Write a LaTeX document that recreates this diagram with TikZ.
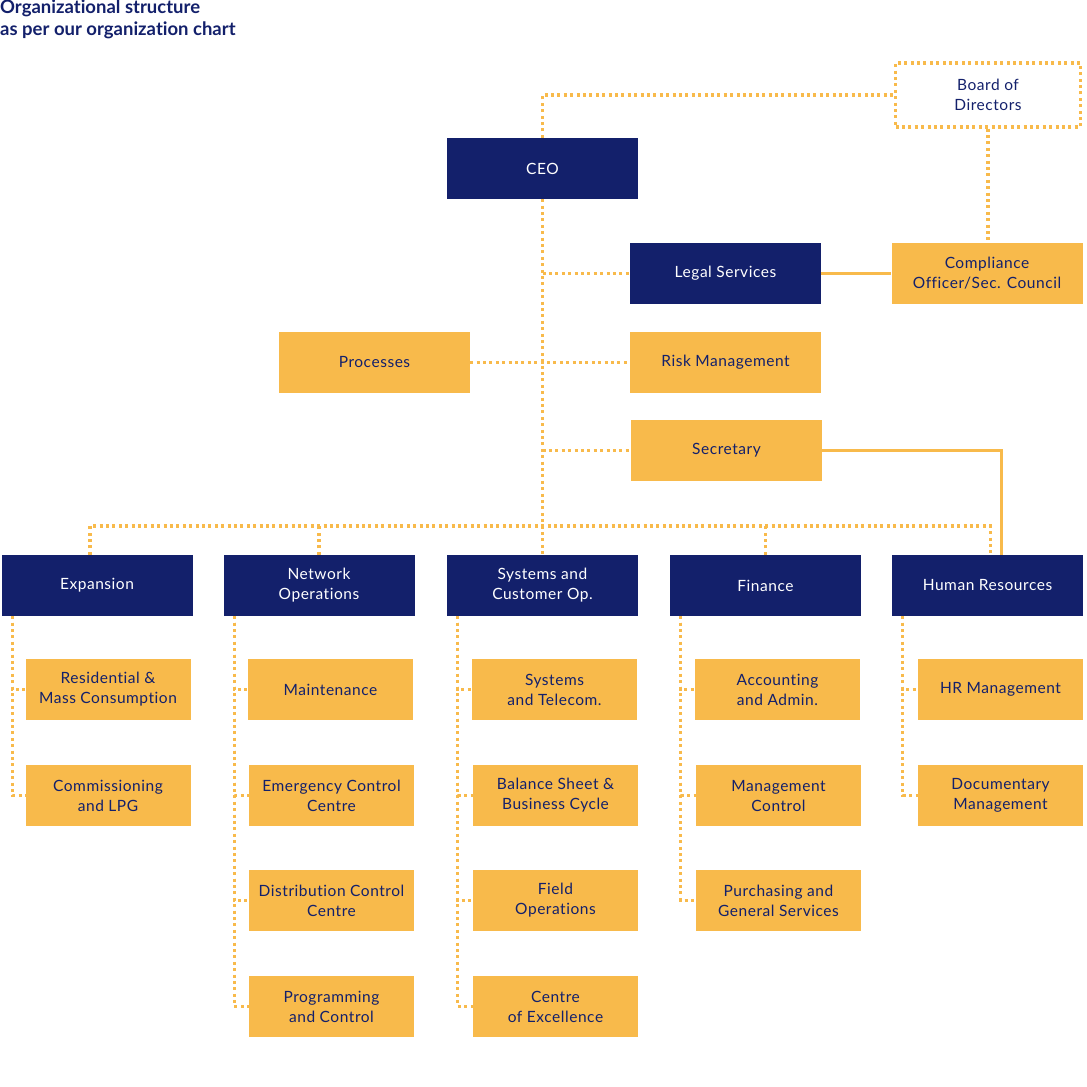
\documentclass[tikz,border=0pt]{standalone}
\usepackage{fontspec}
\setmainfont{Lato}[Ligatures=NoCommon]
\definecolor{navy}{HTML}{13206B}
\definecolor{gold}{HTML}{F8BA4B}
\tikzset{
  box/.style={minimum width=191pt, minimum height=61pt, inner sep=0pt, align=center, font=\fontsize{15.5}{20}\selectfont\addfontfeature{LetterSpace=3.5}},
  navybox/.style={box, fill=navy, text=white},
  goldbox/.style={box, fill=gold, text=navy},
  kidbox/.style={goldbox, minimum width=165pt},
  boardbox/.style={box, minimum width=185pt, minimum height=64pt, text=navy, draw=gold, line width=3.2pt, dash pattern=on 3pt off 3.4pt},
  dotline/.style={draw=gold, line width=3.2pt, dash pattern=on 3pt off 3.4pt},
  solidline/.style={draw=gold, line width=2.2pt}
}
\begin{document}
\begin{tikzpicture}[x=1pt,y=-1pt]
\useasboundingbox (0,0) rectangle (1087,1087);
\node[anchor=north west, inner sep=0pt, align=left, text=navy, font=\fontsize{18.5}{22}\selectfont\bfseries] (title) at (0,0) {Organizational structure\\as per our organization chart};

\node[boardbox] (board) at (988,95) {Board of\\Directors};
\node[navybox] (ceo) at (542.5,168.5) {CEO};
\node[navybox] (legal) at (725.5,273.5) {Legal Services};
\node[goldbox] (comp) at (987,273.5) {Compliance\\Officer/Sec. Council};
\node[goldbox] (risk) at (725.5,362.5) {Risk Management};
\node[goldbox] (proc) at (374.5,362.5) {Processes};
\node[goldbox] (sec) at (726.5,450.5) {Secretary};

\node[navybox] (exp) at (97,585.5) {Expansion};
\node[navybox] (net) at (319,585.5) {Network\\Operations};
\node[navybox] (sys) at (542.5,585.5) {Systems and\\Customer Op.};
\node[navybox] (fin) at (765.5,585.5) {Finance};
\node[navybox] (hr) at (987.5,585.5) {Human Resources};

\node[kidbox] (res) at (108,689.5) {Residential \&\\Mass Consumption};
\node[kidbox] (com) at (108,795.5) {Commissioning\\and LPG};

\node[kidbox] (mai) at (330.5,689.5) {Maintenance};
\node[kidbox] (emc) at (331.5,795.5) {Emergency Control\\Centre};
\node[kidbox] (dcc) at (331.5,900.5) {Distribution Control\\Centre};
\node[kidbox] (pac) at (331.5,1006.5) {Programming\\and Control};

\node[kidbox] (stl) at (554.5,689.5) {Systems\\and Telecom.};
\node[kidbox] (bsb) at (555.5,795.5) {Balance Sheet \&\\Business Cycle};
\node[kidbox] (fop) at (555.5,900.5) {Field\\Operations};
\node[kidbox] (coe) at (555.5,1006.5) {Centre\\of Excellence};

\node[kidbox] (aca) at (777.5,689.5) {Accounting\\and Admin.};
\node[kidbox] (mco) at (778.5,795.5) {Management\\Control};
\node[kidbox] (pgs) at (778.5,900.5) {Purchasing and\\General Services};

\node[kidbox] (hrm) at (1000.5,689.5) {HR Management};
\node[kidbox] (doc) at (1000.5,795.5) {Documentary\\Management};

\coordinate (bus) at (542.5,526);

% top connectors
\draw[dotline] (ceo.north) |- (board.west);
\draw[dotline] (board.south) -- (board.south |- comp.north);
\draw[solidline] (legal.east) -- (comp.west);
\draw[dotline] (ceo.south) -- (sys.north);
\draw[dotline] (ceo.south |- legal.west) -- (legal.west);
\draw[dotline] (proc.east) -- (risk.west);
\draw[dotline] (ceo.south |- sec.west) -- (sec.west);
\draw[solidline] (sec.east) -| ([xshift=14pt]hr.north);

% bus
\draw[dotline] ([xshift=-7pt]exp.north) |- (bus) -| ([xshift=3pt]hr.north);
\draw[dotline] (net.north) -- (net.north |- bus);
\draw[dotline] (fin.north) -- (fin.north |- bus);

% children
\draw[dotline] ([xshift=11pt]exp.south west) |- (res.west);
\draw[dotline] ([xshift=11pt]exp.south west) |- (com.west);
\draw[dotline] ([xshift=11pt]net.south west) |- (mai.west);
\draw[dotline] ([xshift=11pt]net.south west) |- (emc.west);
\draw[dotline] ([xshift=11pt]net.south west) |- (dcc.west);
\draw[dotline] ([xshift=11pt]net.south west) |- (pac.west);
\draw[dotline] ([xshift=11pt]sys.south west) |- (stl.west);
\draw[dotline] ([xshift=11pt]sys.south west) |- (bsb.west);
\draw[dotline] ([xshift=11pt]sys.south west) |- (fop.west);
\draw[dotline] ([xshift=11pt]sys.south west) |- (coe.west);
\draw[dotline] ([xshift=11pt]fin.south west) |- (aca.west);
\draw[dotline] ([xshift=11pt]fin.south west) |- (mco.west);
\draw[dotline] ([xshift=11pt]fin.south west) |- (pgs.west);
\draw[dotline] ([xshift=11pt]hr.south west) |- (hrm.west);
\draw[dotline] ([xshift=11pt]hr.south west) |- (doc.west);
\end{tikzpicture}
\end{document}
